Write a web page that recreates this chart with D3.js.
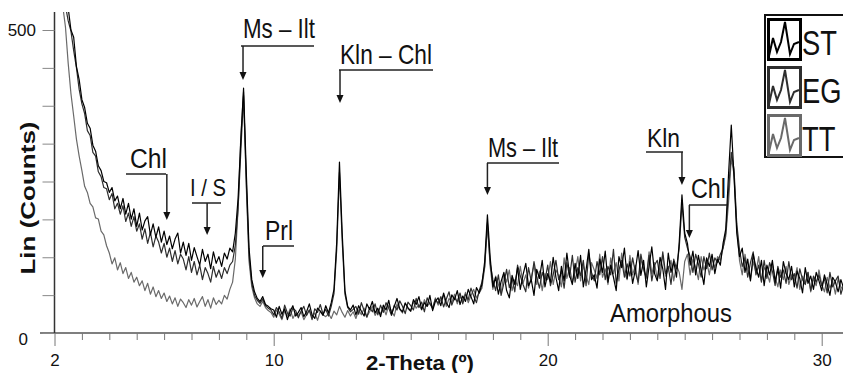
<!DOCTYPE html>
<html>
<head>
<meta charset="utf-8">
<script src="https://cdn.jsdelivr.net/npm/d3@7/dist/d3.min.js"></script>
<style>
  body { margin: 0; background: #fff; }
  text { font-family: "Liberation Sans Narrow", "Arial Narrow", "Liberation Sans", Arial, sans-serif; fill: #111; }
</style>
</head>
<body>
<svg id="chart" width="843" height="373"></svg>
<script>
// scan: 2θ from 2.0°, step 0.1°
const startAngle = 2;
const stepAngle = 0.1;

const seriesNames = ["ST", "EG", "TT"];
const seriesColors = ["#000000", "#2e2e2e", "#6a6a6a"];

const stCounts = [
  625, 598, 612, 570, 548, 536, 500, 488, 440, 418,
  385, 372, 346, 338, 310, 300, 276, 268, 250, 248,
  232, 240, 218, 226, 205, 222, 196, 214, 188, 205,
  176, 198, 170, 185, 192, 162, 180, 158, 175, 150,
  168, 146, 160, 139, 155, 165, 132, 150, 128, 148,
  120, 141, 126, 112, 138, 118, 130, 106, 134, 115,
  126, 110, 132, 122, 140, 134, 165, 222, 318, 404,
  265, 140, 88, 68, 57, 52, 60, 47, 44, 40,
  38, 26, 44, 31, 40, 22, 36, 45, 28, 34,
  42, 27, 35, 48, 30, 24, 41, 36, 29, 45,
  33, 50, 72, 150, 282, 165, 70, 44, 38, 46,
  30, 45, 36, 28, 48, 39, 52, 33, 41, 27,
  46, 38, 54, 31, 44, 57, 40, 35, 49, 42,
  36, 55, 47, 60, 39, 50, 44, 62, 37, 52,
  58, 45, 66, 50, 42, 63, 55, 70, 47, 61,
  52, 72, 60, 48, 75, 66, 80, 118, 195, 125,
  76, 92, 64, 85, 100, 70, 58, 95, 80, 108,
  72, 96, 115, 78, 88, 62, 105, 90, 120, 76,
  98, 84, 125, 92, 70, 110, 86, 132, 95, 80,
  115, 90, 128, 76, 104, 138, 88, 96, 74, 122,
  100, 135, 84, 112, 92, 70, 126, 108, 140, 90,
  118, 82, 104, 136, 95, 120, 76, 110, 142, 98,
  86, 125, 106, 72, 132, 100, 118, 92, 150, 228,
  165, 148, 112, 135, 96, 128, 104, 80, 124, 110,
  130, 98, 122, 112, 148, 172, 262, 343, 258, 165,
  126, 140, 100, 122, 86, 130, 108, 92, 120, 78,
  112, 96, 120, 84, 106, 74, 118, 98, 88, 110,
  76, 102, 90, 66, 108, 82, 94, 72, 100, 86,
  70, 96, 80, 62, 92, 84, 68, 88, 74
];

const egCounts = [
  610, 590, 575, 552, 540, 515, 498, 466, 438, 402,
  378, 362, 334, 326, 298, 292, 266, 258, 240, 238,
  220, 230, 205, 214, 196, 210, 184, 198, 176, 192,
  168, 180, 155, 172, 148, 166, 142, 160, 150, 132,
  148, 125, 140, 118, 136, 114, 130, 122, 104, 126,
  100, 118, 96, 112, 88, 108, 98, 84, 110, 92,
  104, 90, 108, 98, 112, 118, 145, 205, 300, 392,
  250, 128, 82, 62, 54, 49, 56, 45, 41, 38,
  30, 42, 35, 24, 46, 33, 28, 41, 37, 25,
  36, 44, 29, 38, 22, 40, 34, 47, 31, 39,
  28, 44, 65, 138, 265, 152, 64, 42, 35, 39,
  44, 31, 50, 37, 26, 42, 35, 48, 30, 46,
  34, 50, 41, 29, 46, 38, 53, 44, 32, 51,
  45, 38, 57, 42, 51, 35, 58, 48, 41, 56,
  49, 60, 43, 56, 68, 46, 58, 52, 66, 48,
  64, 55, 74, 61, 50, 70, 84, 110, 182, 115,
  88, 70, 96, 62, 82, 105, 75, 90, 68, 112,
  94, 80, 68, 108, 85, 118, 92, 74, 100, 86,
  112, 78, 96, 120, 88, 102, 74, 116, 92, 128,
  84, 108, 95, 120, 78, 132, 100, 86, 118, 96,
  126, 88, 110, 96, 138, 82, 104, 120, 92, 114,
  94, 124, 100, 84, 130, 106, 92, 128, 86, 112,
  120, 90, 134, 98, 110, 80, 122, 106, 140, 214,
  158, 140, 126, 100, 130, 114, 92, 126, 106, 132,
  104, 124, 116, 130, 140, 165, 235, 298, 270, 180,
  138, 110, 124, 92, 116, 134, 96, 112, 84, 120,
  90, 116, 102, 78, 110, 92, 104, 82, 118, 88,
  98, 74, 106, 88, 80, 100, 70, 94, 84, 96,
  78, 90, 66, 100, 76, 86, 94, 64, 80
];

const ttCounts = [
  630, 600, 572, 540, 505, 445, 395, 358, 320, 292,
  268, 242, 232, 214, 208, 190, 188, 168, 162, 144,
  132, 114, 124, 104, 116, 98, 108, 90, 100, 84,
  92, 78, 86, 70, 82, 64, 76, 60, 70, 57,
  66, 52, 61, 48, 58, 44, 56, 50, 42, 55,
  46, 57, 43, 52, 60, 44, 55, 41, 58, 47,
  54, 48, 62, 56, 72, 84, 122, 205, 325, 398,
  240, 118, 76, 58, 48, 44, 52, 42, 37, 34,
  26, 38, 31, 22, 36, 28, 40, 24, 33, 29,
  35, 22, 30, 38, 26, 33, 21, 36, 30, 27,
  32, 24, 36, 30, 44, 34, 26, 37, 28, 35,
  24, 38, 30, 41, 27, 35, 44, 29, 37, 32,
  42, 30, 46, 36, 28, 48, 39, 33, 50, 40,
  36, 52, 41, 47, 38, 55, 44, 50, 40, 58,
  46, 55, 62, 44, 57, 50, 64, 48, 60, 53,
  67, 50, 62, 72, 58, 66, 74, 108, 178, 110,
  72, 94, 80, 66, 98, 84, 104, 70, 88, 78,
  110, 82, 96, 74, 92, 112, 80, 102, 70, 98,
  88, 118, 80, 104, 94, 76, 124, 90, 108, 84,
  100, 126, 86, 112, 94, 80, 116, 104, 90, 130,
  92, 106, 80, 124, 98, 116, 86, 132, 100, 88,
  128, 96, 112, 80, 122, 104, 90, 134, 98, 116,
  88, 110, 128, 94, 104, 120, 86, 112, 100, 72,
  118, 130, 96, 122, 108, 88, 126, 104, 118, 96,
  124, 108, 126, 120, 140, 160, 215, 288, 262, 175,
  120, 96, 130, 104, 88, 118, 100, 126, 86, 108,
  100, 84, 114, 92, 76, 104, 88, 110, 80, 96,
  86, 108, 72, 94, 82, 100, 68, 90, 78, 104,
  80, 68, 92, 74, 86, 64, 90, 76, 70
];

const xMajorTicks = [2, 10, 20, 30];
const xMinorTicks = d3.range(3, 31);
const yTicks = [0, 62.5, 125, 187.5, 250, 312.5, 375, 437.5, 500];
const yTickLabels = [0, 500];

// peak labels: 2θ the arrow points at, and the label text
const peakLabels = [
  { name: "Ms – Ilt", angle: 8.88 },
  { name: "Kln – Chl", angle: 12.42 },
  { name: "Ms – Ilt", angle: 17.8 },
  { name: "Chl", angle: 6.1 },
  { name: "I / S", angle: 7.57 },
  { name: "Prl", angle: 9.6 },
  { name: "Kln", angle: 24.9 },
  { name: "Chl", angle: 25.17 }
];

const svg = d3.select("#chart");

const x = d3.scaleLinear().domain([2, 30]).range([54.5, 821.7]);
const y = d3.scaleLinear().domain([0, 500]).range([333, 30]);

svg.append("defs").append("clipPath").attr("id", "plot")
  .append("rect").attr("x", 54.5).attr("y", 12).attr("width", 790).attr("height", 321);

// x axis
svg.append("line")
  .attr("x1", 40).attr("x2", 843).attr("y1", 333).attr("y2", 333)
  .attr("stroke", "#555").attr("stroke-width", 1.5);

const xMinor = svg.append("g")
  .attr("transform", "translate(0,333)")
  .call(d3.axisBottom(x).tickValues(xMinorTicks.filter(d => !xMajorTicks.includes(d))).tickSize(7).tickFormat(""));
xMinor.select(".domain").remove();
xMinor.selectAll("line").attr("stroke", "#777");

const xMajor = svg.append("g")
  .attr("transform", "translate(0,333)")
  .call(d3.axisBottom(x).tickValues(xMajorTicks).tickSize(13).tickPadding(8));
xMajor.select(".domain").remove();
xMajor.selectAll("line").attr("stroke", "#777");
xMajor.selectAll("text").attr("font-size", 17).attr("fill", "#222")
  .style("font-family", "'Liberation Sans Narrow','Arial Narrow',sans-serif");

// y axis
svg.append("line")
  .attr("x1", 54.5).attr("x2", 54.5).attr("y1", 12).attr("y2", 333)
  .attr("stroke", "#333").attr("stroke-width", 1.5);

const yAxis = svg.append("g")
  .attr("transform", "translate(54.5,0)")
  .call(d3.axisLeft(y).tickValues(yTicks).tickSize(12).tickFormat(""));
yAxis.select(".domain").remove();
yAxis.selectAll("line").attr("stroke", "#888");

svg.selectAll(".ylab")
  .data(yTickLabels)
  .enter().append("text")
  .attr("class", "ylab")
  .attr("x", d => d === 0 ? 28 : 36)
  .attr("y", d => y(d) + (d === 0 ? 12 : 6))
  .attr("text-anchor", "end")
  .attr("font-size", 17)
  .attr("fill", "#222")
  .text(d => d);

// axis titles
svg.append("text")
  .attr("transform", "translate(35,198) rotate(-90)")
  .attr("text-anchor", "middle")
  .attr("font-size", 21)
  .attr("font-weight", "bold")
  .style("font-family", "'Liberation Sans',Arial,sans-serif")
  .attr("textLength", 153).attr("lengthAdjust", "spacingAndGlyphs")
  .text("Lin (Counts)");

svg.append("text")
  .attr("x", 420).attr("y", 370)
  .attr("text-anchor", "middle")
  .attr("font-size", 20)
  .attr("font-weight", "bold")
  .style("font-family", "'Liberation Sans',Arial,sans-serif")
  .attr("textLength", 108).attr("lengthAdjust", "spacingAndGlyphs")
  .text("2-Theta (º)");

// patterns
const line = d3.line()
  .x((d, i) => x(startAngle + i * stepAngle))
  .y(d => y(d));

const plot = svg.append("g").attr("clip-path", "url(#plot)");
const allSeries = [ttCounts, egCounts, stCounts];
const drawColors = [seriesColors[2], seriesColors[1], seriesColors[0]];
plot.selectAll("path.pattern")
  .data(allSeries)
  .enter().append("path")
  .attr("class", "pattern")
  .attr("d", d => line(d))
  .attr("fill", "none")
  .attr("stroke", (d, i) => drawColors[i])
  .attr("stroke-width", 1.2)
  .attr("stroke-linejoin", "round");

// peak annotations: label, bracket and arrow
const labelLayout = [
  { tx: 243, ty: 38, fs: 28, tl: 72, hy: 46, hx1: 241, hx2: 314, tip: 80 },
  { tx: 340, ty: 64, fs: 28, tl: 92, hy: 70, hx1: 339, hx2: 433, tip: 103 },
  { tx: 488, ty: 157, fs: 27, tl: 70, hy: 163, hx1: 487, hx2: 559, tip: 195 },
  { tx: 130, ty: 168, fs: 27, tl: 37, hy: 174, hx1: 126, hx2: 166, tip: 220 },
  { tx: 190, ty: 196, fs: 24, tl: 36, hy: 203, hx1: 192, hx2: 221, tip: 235 },
  { tx: 265, ty: 240, fs: 28, tl: 28, hy: 246, hx1: 263, hx2: 294, tip: 278 },
  { tx: 647, ty: 147, fs: 26, tl: 33, hy: 152, hx1: 646, hx2: 683, tip: 185 },
  { tx: 691, ty: 198, fs: 27, tl: 35, hy: 205, hx1: 689, hx2: 727, tip: 238 }
];

const ann = svg.append("g");
peakLabels.forEach((p, i) => {
  const L = labelLayout[i];
  const ax = x(p.angle);
  ann.append("text")
    .attr("x", L.tx).attr("y", L.ty)
    .attr("font-size", L.fs)
    .attr("textLength", L.tl).attr("lengthAdjust", "spacingAndGlyphs")
    .text(p.name);
  ann.append("line")
    .attr("x1", L.hx1).attr("x2", L.hx2).attr("y1", L.hy).attr("y2", L.hy)
    .attr("stroke", "#222").attr("stroke-width", 1.5);
  ann.append("line")
    .attr("x1", ax).attr("x2", ax).attr("y1", L.hy).attr("y2", L.tip - 6)
    .attr("stroke", "#222").attr("stroke-width", 1.5);
  ann.append("path")
    .attr("d", `M${ax - 3.5},${L.tip - 8}L${ax + 3.5},${L.tip - 8}L${ax},${L.tip}Z`)
    .attr("fill", "#111");
});

ann.append("text")
  .attr("x", 610).attr("y", 322)
  .attr("font-size", 25)
  .attr("textLength", 122).attr("lengthAdjust", "spacingAndGlyphs")
  .text("Amorphous");

// legend
const legend = svg.append("g");
legend.append("rect")
  .attr("x", 765).attr("y", 15).attr("width", 90).attr("height", 142)
  .attr("fill", "#fff").attr("stroke", "#111").attr("stroke-width", 2);

const iconPts = [[2, 38], [6, 20], [10, 34], [14, 24], [18, 4], [23, 36], [27, 26], [32, 24]];
const rowTop = [18, 66, 114];
seriesNames.forEach((name, i) => {
  const g = legend.append("g").attr("transform", `translate(767,${rowTop[i]})`);
  g.append("rect")
    .attr("x", 1.5).attr("y", 1.5).attr("width", 32).attr("height", 40)
    .attr("fill", "#fff").attr("stroke", seriesColors[i]).attr("stroke-width", 3);
  g.append("path")
    .attr("d", d3.line()(iconPts))
    .attr("fill", "none").attr("stroke", seriesColors[i]).attr("stroke-width", 2);
  g.append("text")
    .attr("transform", "translate(35,37) scale(0.76,1)")
    .attr("font-size", 36)
    .style("font-family", "'Liberation Sans',Arial,sans-serif")
    .text(name);
});
</script>
</body>
</html>
